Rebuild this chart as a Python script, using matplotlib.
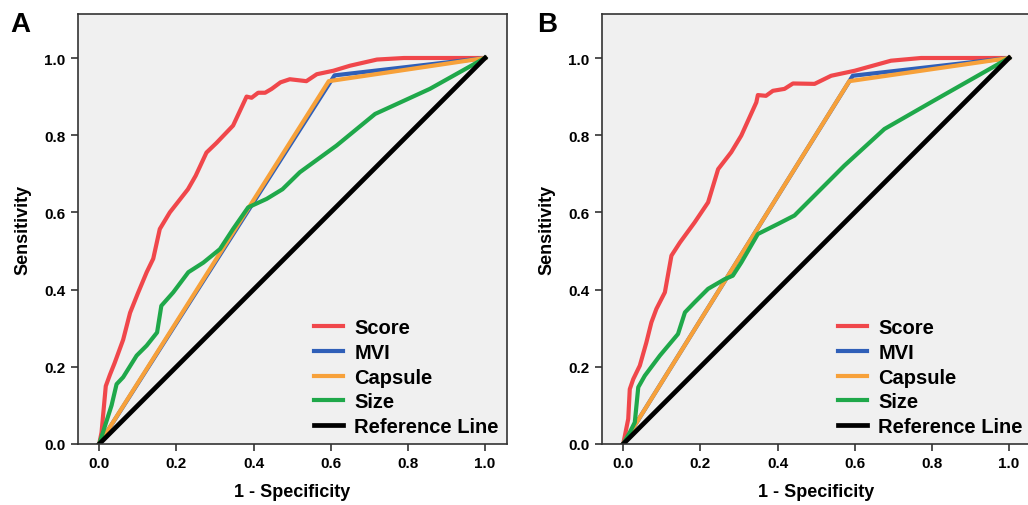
import matplotlib.pyplot as plt

plt.rcParams['font.family'] = ['Liberation Sans', 'DejaVu Sans']
plt.rcParams['font.weight'] = 'bold'

# ---- Panel A data ----
a_score_x = [0, 0.006, 0.017, 0.028, 0.04, 0.062, 0.08, 0.10, 0.123, 0.14, 0.157, 0.183, 0.23, 0.25,
             0.278, 0.304, 0.347, 0.382, 0.395, 0.412, 0.43, 0.447, 0.47, 0.494, 0.537, 0.564, 0.607,
             0.65, 0.72, 0.79, 1.0]
a_score_y = [0, 0.03, 0.15, 0.18, 0.21, 0.27, 0.34, 0.39, 0.445, 0.48, 0.557, 0.60, 0.66, 0.695,
             0.755, 0.78, 0.825, 0.90, 0.897, 0.91, 0.91, 0.92, 0.937, 0.945, 0.94, 0.958, 0.967,
             0.98, 0.996, 1.0, 1.0]
a_mvi_x = [0, 0.61, 1.0]
a_mvi_y = [0, 0.955, 1.0]
a_capsule_x = [0, 0.595, 1.0]
a_capsule_y = [0, 0.94, 1.0]
a_size_x = [0, 0.015, 0.032, 0.045, 0.062, 0.097, 0.123, 0.15, 0.161, 0.192, 0.231, 0.27, 0.313,
            0.347, 0.386, 0.434, 0.475, 0.52, 0.615, 0.715, 0.857, 1.0]
a_size_y = [0, 0.047, 0.10, 0.155, 0.173, 0.229, 0.255, 0.289, 0.358, 0.393, 0.445, 0.47, 0.505,
            0.557, 0.613, 0.635, 0.66, 0.704, 0.773, 0.855, 0.92, 1.0]

# ---- Panel B data ----
b_score_x = [0, 0.006, 0.013, 0.017, 0.026, 0.043, 0.06, 0.073, 0.086, 0.108, 0.125, 0.147, 0.185,
             0.22, 0.246, 0.28, 0.306, 0.345, 0.349, 0.37, 0.388, 0.418, 0.44, 0.496, 0.539, 0.60,
             0.694, 0.772, 1.0]
b_score_y = [0, 0.03, 0.065, 0.142, 0.168, 0.203, 0.263, 0.315, 0.35, 0.393, 0.488, 0.522, 0.574,
             0.626, 0.712, 0.756, 0.799, 0.885, 0.904, 0.902, 0.915, 0.92, 0.934, 0.933, 0.954, 0.967,
             0.993, 1.0, 1.0]
b_mvi_x = [0, 0.595, 1.0]
b_mvi_y = [0, 0.954, 1.0]
b_capsule_x = [0, 0.586, 1.0]
b_capsule_y = [0, 0.94, 1.0]
b_size_x = [0, 0.017, 0.03, 0.039, 0.056, 0.095, 0.142, 0.16, 0.185, 0.22, 0.263, 0.284, 0.306,
            0.349, 0.401, 0.444, 0.504, 0.573, 0.677, 0.806, 1.0]
b_size_y = [0, 0.03, 0.056, 0.147, 0.177, 0.229, 0.285, 0.341, 0.367, 0.402, 0.427, 0.436, 0.47,
            0.544, 0.57, 0.592, 0.652, 0.721, 0.816, 0.89, 1.0]

ref_x = [0, 1]
ref_y = [0, 1]

ticks = [0.0, 0.2, 0.4, 0.6, 0.8, 1.0]

fig = plt.figure(figsize=(10.28, 5.06), dpi=100)
axA = fig.add_axes([78/1028, 1 - 445/506, 429/1028, 430/506])
axB = fig.add_axes([602/1028, 1 - 445/506, 429/1028, 430/506])


def draw(ax, score, mvi, capsule, size, letter, lx):
    ax.set_facecolor('#f0f0f0')
    ax.plot(*score, color='#f0474b', lw=3.0, label='Score')
    ax.plot(*mvi, color='#2f5fb8', lw=3.0, label='MVI')
    ax.plot(*capsule, color='#f7a13a', lw=3.0, label='Capsule')
    ax.plot(*size, color='#1fa84a', lw=3.0, label='Size')
    ax.plot(ref_x, ref_y, color='black', lw=3.4, label='Reference Line')
    ax.set_xlim(-0.055, 1.057)
    ax.set_ylim(0, 1.114)
    ax.set_xticks(ticks)
    ax.set_yticks(ticks)
    ax.set_xticklabels([f'{t:.1f}' for t in ticks], fontsize=11, fontweight='bold')
    ax.set_yticklabels([f'{t:.1f}' for t in ticks], fontsize=11, fontweight='bold')
    ax.tick_params(direction='out', length=5, width=1.2, color='#333333', pad=4)
    for s in ax.spines.values():
        s.set_linewidth(1.2)
        s.set_color('#333333')
    ax.set_xlabel('1 - Specificity', fontsize=13, fontweight='bold', labelpad=9)
    ax.set_ylabel('Sensitivity', fontsize=13, fontweight='bold', labelpad=9)
    ax.legend(loc='lower right', frameon=False, handlelength=1.45,
              handletextpad=0.55, labelspacing=0.28, borderaxespad=0.0,
              prop={'weight': 'bold', 'size': 14.5})
    fig.text(lx, 1 - 32/506, letter, fontsize=20, fontweight='bold', ha='left', va='baseline')


draw(axA, (a_score_x, a_score_y), (a_mvi_x, a_mvi_y), (a_capsule_x, a_capsule_y),
     (a_size_x, a_size_y), 'A', 10/1028)
draw(axB, (b_score_x, b_score_y), (b_mvi_x, b_mvi_y), (b_capsule_x, b_capsule_y),
     (b_size_x, b_size_y), 'B', 537/1028)

fig.savefig('out.png', dpi=100)
